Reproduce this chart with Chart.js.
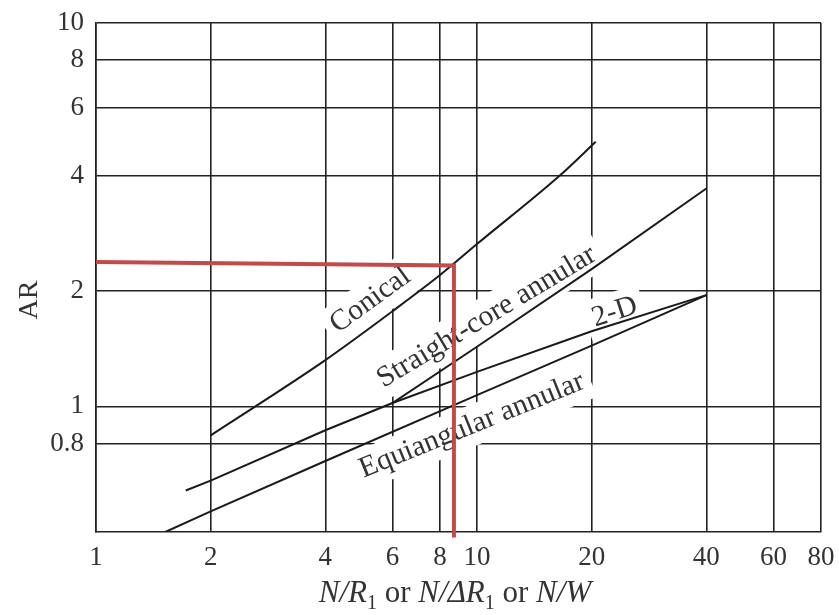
<!DOCTYPE html>
<html>
<head>
<meta charset="utf-8">
<script src="https://cdn.jsdelivr.net/npm/chart.js@4.4.1/dist/chart.umd.min.js"></script>
<style>
  html, body { margin: 0; padding: 0; background: #fff; }
  #wrap { width: 839px; height: 615px; }
</style>
</head>
<body>
<div id="wrap"><canvas id="arChart"></canvas></div>
<script>
// tick values on the two log axes
const xTicks = [1, 2, 4, 6, 8, 10, 20, 40, 60, 80];
const yTicks = [0.8, 1, 2, 4, 6, 8, 10];

// curves (x = N/R1, y = AR)
const conicalX = [2, 4, 6, 8, 10, 16.5, 20.5];
const conicalY = [0.84, 1.32, 1.77, 2.2, 2.65, 4.0, 4.9];
const straightX = [1.72, 2, 4, 6, 10, 20, 40];
const straightY = [0.603, 0.64, 0.866, 1.02, 1.43, 2.28, 3.7];
const twoDX = [6, 10, 20, 40];
const twoDY = [1.02, 1.23, 1.57, 1.95];
const equiX = [1.52, 2, 4, 10, 20, 40];
const equiY = [0.47, 0.532, 0.72, 1.07, 1.44, 1.95];

// red read-off line
const redX = [1, 8.7, 8.7];
const redY = [2.38, 2.33, 0.455];

const curveNames = ['Conical', 'Straight-core annular', '2-D', 'Equiangular annular'];

const serif = "'Liberation Serif', 'DejaVu Serif', serif";
const inkColor = '#333';
const gridColor = '#222';

function pts(xs, ys) {
    return xs.map((x, i) => ({ x: x, y: ys[i] }));
}

function curve(name, xs, ys, smooth) {
    return {
        label: name,
        data: pts(xs, ys),
        showLine: true,
        borderColor: '#1a1a1a',
        borderWidth: 2,
        pointRadius: 0,
        tension: smooth ? 0.4 : 0,
        cubicInterpolationMode: smooth ? 'monotone' : 'default',
        order: 1
    };
}

//curve labels sit on white boxes that break the grid, like the printed figure
const curveLabels = [
    { text: curveNames[0], x: 5.25, y: 1.89, angle: -36 },
    { text: curveNames[1], x: 10.6, y: 1.71, angle: -31 },
    { text: curveNames[2], x: 23.0, y: 1.76, angle: -18 },
    { text: curveNames[3], x: 9.7, y: 0.89, angle: -22 }
];

const labelPlugin = {
    id: 'curveLabels',
    beforeDatasetsDraw(chart) {
        const ctx = chart.ctx;
        const xs = chart.scales.x, ys = chart.scales.y;
        curveLabels.forEach(l => {
            const px = xs.getPixelForValue(l.x);
            const py = ys.getPixelForValue(l.y);
            ctx.save();
            ctx.translate(px, py);
            ctx.rotate(l.angle * Math.PI / 180);
            ctx.font = '29.5px ' + serif;
            const w = ctx.measureText(l.text).width;
            const h = 40;
            ctx.fillStyle = '#fff';
            ctx.fillRect(-w / 2 - 7, -h / 2, w + 14, h);
            ctx.fillStyle = inkColor;
            ctx.textAlign = 'center';
            ctx.textBaseline = 'middle';
            ctx.fillText(l.text, 0, 0);
            ctx.restore();
        });
    }
};

//axis titles: the x one mixes italic letters and subscripts
const titlePlugin = {
    id: 'axisTitles',
    afterDraw(chart) {
        const ctx = chart.ctx;
        const runs = [
            { t: 'N/R', it: true }, { t: '1', sub: true }, { t: ' or ' },
            { t: 'N/\u0394R', it: true }, { t: '1', sub: true }, { t: ' or ' },
            { t: 'N/W', it: true }
        ];
        const fontFor = r => (r.it ? 'italic ' : '') + (r.sub ? '20px ' : '31px ') + serif;
        let total = 0;
        runs.forEach(r => { ctx.font = fontFor(r); r.w = ctx.measureText(r.t).width; total += r.w; });
        let cx = 455 - total / 2;
        ctx.save();
        ctx.fillStyle = inkColor;
        ctx.textBaseline = 'alphabetic';
        ctx.textAlign = 'left';
        runs.forEach(r => {
            ctx.font = fontFor(r);
            ctx.fillText(r.t, cx, r.sub ? 609 : 602);
            cx += r.w;
        });
        ctx.translate(30, 300);
        ctx.rotate(-Math.PI / 2);
        ctx.font = '28px ' + serif;
        ctx.textAlign = 'center';
        ctx.textBaseline = 'middle';
        ctx.fillText('AR', 0, 0);
        ctx.restore();
    }
};

const tickFont = { family: serif, size: 27 };

new Chart(document.getElementById('arChart'), {
    type: 'scatter',
    data: {
        datasets: [
            {
                label: 'read-off',
                data: pts(redX, redY),
                showLine: true,
                borderColor: '#c44a4a',
                borderWidth: 4,
                pointRadius: 0,
                clip: false,
                order: 0
            },
            curve(curveNames[0], conicalX, conicalY, true),
            curve(curveNames[1], straightX, straightY, false),
            curve(curveNames[2], twoDX, twoDY, false),
            curve(curveNames[3], equiX, equiY, false)
        ]
    },
    options: {
        responsive: true,
        maintainAspectRatio: false,
        animation: false,
        layout: { padding: { top: 23, right: 18, left: 0, bottom: 0 } },
        plugins: {
            legend: { display: false },
            tooltip: { enabled: false }
        },
        scales: {
            x: {
                type: 'logarithmic',
                min: 1,
                max: 80,
                afterBuildTicks: axis => { axis.ticks = xTicks.map(v => ({ value: v })); },
                afterFit: scale => {
                    scale.height = 83;
                    scale.paddingLeft = 0;
                    scale.paddingRight = 0;
                },
                ticks: {
                    callback: v => String(v),
                    font: tickFont,
                    color: inkColor,
                    padding: 10,
                    maxRotation: 0,
                    autoSkip: false
                },
                grid: { color: gridColor, lineWidth: 1.6, drawTicks: false },
                border: { color: gridColor, width: 1.6 }
            },
            y: {
                type: 'logarithmic',
                min: 0.47,
                max: 10,
                afterBuildTicks: axis => { axis.ticks = yTicks.map(v => ({ value: v })); },
                afterFit: scale => {
                    scale.width = 96;
                    scale.paddingTop = 0;
                    scale.paddingBottom = 0;
                },
                ticks: {
                    callback: v => String(v),
                    font: tickFont,
                    color: inkColor,
                    padding: 12,
                    autoSkip: false
                },
                grid: { color: gridColor, lineWidth: 1.6, drawTicks: false },
                border: { color: gridColor, width: 1.6 }
            }
        }
    },
    plugins: [labelPlugin, titlePlugin]
});
</script>
</body>
</html>
